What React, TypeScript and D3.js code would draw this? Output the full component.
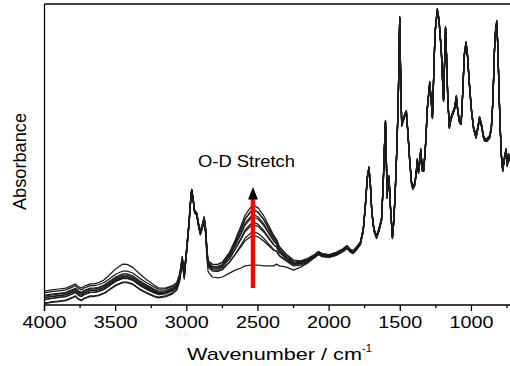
import React from "react";
import * as d3 from "d3";

// Common spectrum (lowest trace / pre-exchange trace), wavenumber in cm-1
const wavenumber = [
  4000, 3950, 3900, 3850, 3800, 3783, 3760, 3740, 3720, 3700, 3680, 3650, 3620, 3580, 3550, 3500,
  3450, 3420, 3380, 3330, 3280, 3230, 3200, 3150, 3100, 3070, 3050, 3032, 3018, 3000, 2985, 2970,
  2965, 2955, 2945, 2930, 2915, 2905, 2890, 2878, 2868, 2858, 2850, 2820, 2780, 2750, 2700, 2660,
  2620, 2590, 2550, 2525, 2500, 2460, 2420, 2390, 2370, 2350, 2300, 2250, 2200, 2150, 2100, 2075,
  2050, 2000, 1950, 1900, 1875, 1850, 1830, 1800, 1780, 1760, 1745, 1732, 1720, 1710, 1700, 1685,
  1667, 1650, 1632, 1620, 1612, 1604, 1597, 1593, 1585, 1579, 1570, 1555, 1545, 1535, 1527, 1515,
  1508, 1504, 1498, 1490, 1480, 1465, 1457, 1445, 1434, 1422, 1412, 1400, 1390, 1380, 1372, 1364,
  1356, 1345, 1335, 1320, 1311, 1293, 1283, 1274, 1265, 1256, 1240, 1228, 1212, 1203, 1196, 1182,
  1175, 1166, 1155, 1143, 1130, 1118, 1106, 1095, 1083, 1072, 1062, 1050, 1038, 1028, 1015, 1000,
  985, 968, 955, 943, 930, 915, 907, 890, 872, 860, 849, 838, 830, 822, 815, 808,
  800, 790, 780, 770, 757, 748, 740, 729,
];
const baseAbs = [
  0.003, 0.007, 0.010, 0.013, 0.023, 0.027, 0.017, 0.013, 0.020, 0.023, 0.027, 0.027, 0.030, 0.037, 0.047, 0.063,
  0.073, 0.073, 0.067, 0.050, 0.037, 0.027, 0.023, 0.027, 0.037, 0.050, 0.080, 0.140, 0.087, 0.180, 0.263, 0.363,
  0.377, 0.347, 0.307, 0.297, 0.253, 0.230, 0.253, 0.273, 0.230, 0.147, 0.107, 0.090, 0.087, 0.090, 0.103, 0.113,
  0.120, 0.127, 0.130, 0.130, 0.130, 0.127, 0.127, 0.127, 0.133, 0.127, 0.123, 0.113, 0.123, 0.137, 0.157, 0.170,
  0.163, 0.160, 0.167, 0.180, 0.190, 0.177, 0.173, 0.190, 0.203, 0.247, 0.330, 0.420, 0.453, 0.397, 0.307, 0.247,
  0.223, 0.247, 0.280, 0.397, 0.513, 0.607, 0.463, 0.357, 0.407, 0.423, 0.330, 0.223, 0.280, 0.380, 0.480, 0.657,
  0.847, 0.953, 0.780, 0.597, 0.613, 0.633, 0.640, 0.560, 0.480, 0.407, 0.387, 0.397, 0.427, 0.480, 0.440, 0.470,
  0.513, 0.447, 0.447, 0.547, 0.647, 0.737, 0.680, 0.623, 0.763, 0.903, 0.980, 0.947, 0.847, 0.747, 0.680, 0.920,
  0.830, 0.680, 0.590, 0.620, 0.637, 0.653, 0.690, 0.640, 0.607, 0.603, 0.697, 0.830, 0.870, 0.830, 0.737, 0.647,
  0.587, 0.557, 0.587, 0.620, 0.597, 0.557, 0.547, 0.547, 0.557, 0.587, 0.680, 0.847, 0.913, 0.940, 0.863, 0.747,
  0.613, 0.497, 0.447, 0.480, 0.513, 0.463, 0.497, 0.480,
];

// Read-off band profiles along the start of the wavenumber grid (0 beyond their length)
const baselineProfile = [
  1, 1, 1, 1, 1, 1, 1, 1, 1, 1, 1, 1, 1, 1, 1, 1,
  1, 1, 1, 1, 0.95, 0.85, 0.75, 0.65, 0.6, 0.55, 0.5, 0.45, 0.4, 0.3, 0.2, 0.1,
  0.05,
];
const ohProfile = [
  0, 0, 0, 0, 0, 0, 0, 0, 0, 0, 0, 0.02, 0.06, 0.2, 0.35, 0.7,
  1, 0.95, 0.75, 0.5, 0.25, 0.1, 0.05,
];
const odProfile = [
  0, 0, 0, 0, 0, 0, 0, 0, 0, 0, 0, 0, 0, 0, 0, 0,
  0, 0, 0, 0, 0, 0, 0, 0, 0, 0, 0, 0, 0, 0, 0, 0,
  0, 0, 0, 0.02, 0.03, 0.05, 0.06, 0.08, 0.12, 0.16, 0.18, 0.21, 0.23, 0.25, 0.35, 0.51,
  0.71, 0.86, 0.98, 1.0, 0.97, 0.85, 0.66, 0.52, 0.42, 0.33, 0.21, 0.16, 0.09, 0.06, 0.02, 0,
];

// Per-spectrum amounts (10 overlaid spectra)
const seriesBaseline = [0.04, 0.03, 0.027, 0.023, 0.02, 0.017, 0.013, 0.007, 0.003, 0];
const seriesOH = [0.02, 0.003, 0, 0.002, 0, 0, 0.002, 0, 0, 0];
const seriesOD = [0, 0.093, 0.113, 0.13, 0.143, 0.157, 0.167, 0.177, 0.187, 0.197];
const seriesShift = [0, 0.004, -0.004, 0.0027, -0.0027, 0.0013, -0.0013, 0.005, -0.005, 0];

const xTicksMajor = [4000, 3500, 3000, 2500, 2000, 1500, 1000];
const xTicksMinor = [3750, 3250, 2750, 2250, 1750, 1250, 750];
const arrowWavenumber = 2535;

const W = 510;
const H = 366;
const left = 44.5;
const right = 510;
const top = 4;
const bottom = 305;

export default function App() {
  const x = d3.scaleLinear().domain([4000, 729]).range([left, right]);
  const y = d3.scaleLinear().domain([0, 1]).range([304, 4]);

  const series = seriesOD.map((_, i) =>
    wavenumber.map((w, j) => ({
      w,
      a:
        baseAbs[j] +
        seriesShift[i] +
        seriesBaseline[i] * (baselineProfile[j] ?? 0) +
        seriesOH[i] * (ohProfile[j] ?? 0) +
        seriesOD[i] * (odProfile[j] ?? 0),
    }))
  );

  const line = d3
    .line<{ w: number; a: number }>()
    .x((d) => x(d.w))
    .y((d) => y(d.a));

  const font = "'Liberation Sans', Arial, Helvetica, sans-serif";
  const ax = x(arrowWavenumber);

  return (
    <svg
      width={W}
      height={H}
      style={{ position: "absolute", left: 0, top: 0, background: "#fff" }}
    >
      <defs>
        <clipPath id="plot">
          <rect x={left} y={top} width={right - left} height={bottom - top} />
        </clipPath>
      </defs>
      <rect width={W} height={H} fill="#fff" />
      <g clipPath="url(#plot)">
        {series.map((s, i) => (
          <path
            key={i}
            d={line(s) || ""}
            fill="none"
            stroke="#1c1c1c"
            strokeWidth={1.25}
            strokeLinejoin="round"
          />
        ))}
      </g>

      {/* red arrow */}
      <line x1={ax} x2={ax} y1={288} y2={198} stroke="#ff0000" strokeWidth={4.5} />
      <path d={`M${ax},187 L${ax - 5},199.5 L${ax + 5},199.5 Z`} fill="#000" />
      <text
        x={246.5}
        y={167}
        fontFamily={font}
        fontSize={17}
        textAnchor="middle"
        textLength={97}
        lengthAdjust="spacingAndGlyphs"
        fill="#000"
      >
        O-D Stretch
      </text>

      {/* frame */}
      <line x1={left} x2={right} y1={top} y2={top} stroke="#000" strokeWidth={1.3} />
      <line x1={left} x2={left} y1={top} y2={311} stroke="#000" strokeWidth={1.3} />
      <line x1={left} x2={right} y1={bottom} y2={bottom} stroke="#000" strokeWidth={1.3} />
      {xTicksMajor.map((t) => (
        <g key={t}>
          <line x1={x(t)} x2={x(t)} y1={bottom} y2={bottom + 6} stroke="#000" strokeWidth={1.3} />
          <text
            x={x(t)}
            y={328}
            fontFamily={font}
            fontSize={16.3}
            textAnchor="middle"
            textLength={44}
            lengthAdjust="spacingAndGlyphs"
            fill="#000"
          >
            {t}
          </text>
        </g>
      ))}
      {xTicksMinor.map((t) => (
        <line key={t} x1={x(t)} x2={x(t)} y1={bottom} y2={bottom + 3} stroke="#000" strokeWidth={1.3} />
      ))}

      <text
        x={187}
        y={360}
        fontFamily={font}
        fontSize={17}
        textLength={175}
        lengthAdjust="spacingAndGlyphs"
        fill="#000"
      >
        Wavenumber / cm
      </text>
      <text x={362} y={352} fontFamily={font} fontSize={11} fill="#000">
        -1
      </text>
      <text
        transform="translate(26,161.5) rotate(-90)"
        fontFamily={font}
        fontSize={18}
        textAnchor="middle"
        textLength={97}
        lengthAdjust="spacingAndGlyphs"
        fill="#000"
      >
        Absorbance
      </text>
    </svg>
  );
}
